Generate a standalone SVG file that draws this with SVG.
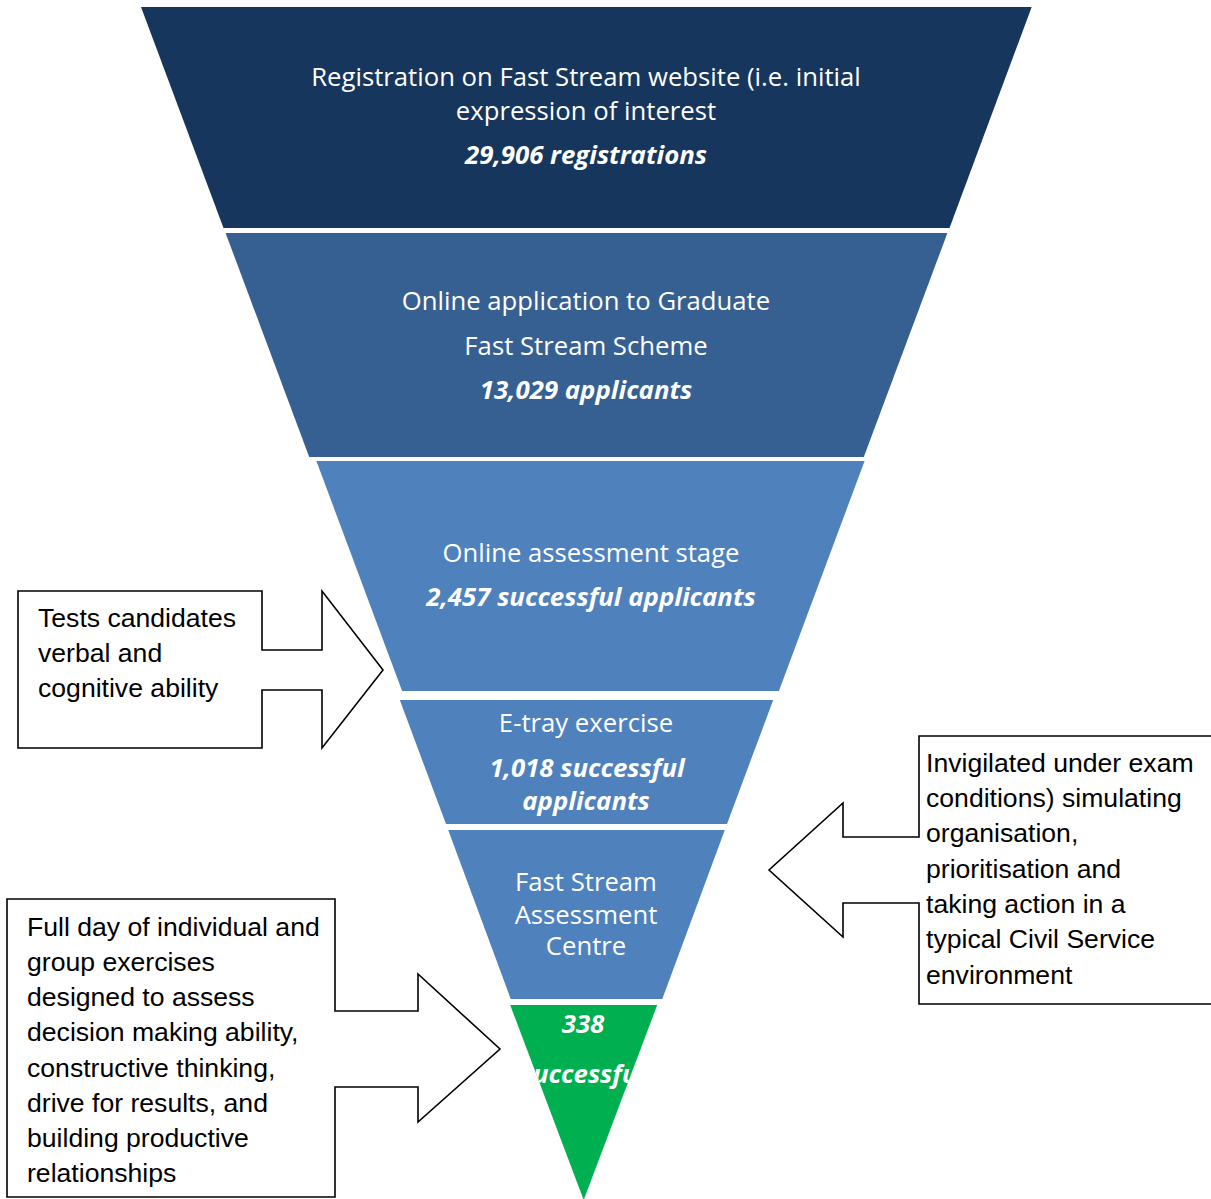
<svg xmlns="http://www.w3.org/2000/svg" width="1211" height="1199" viewBox="0 0 1211 1199">
  <style>
    .band-text { font-family: "Open Sans", Lato, "Liberation Sans", sans-serif; font-size: 25.7px; fill: #ffffff; text-anchor: middle; }
    .band-num { font-family: "Open Sans", Lato, "Liberation Sans", sans-serif; font-size: 25.8px; font-weight: bold; font-style: italic; fill: #ffffff; text-anchor: middle; }
    .note { font-family: "Liberation Sans", Arial, sans-serif; font-size: 26.6px; fill: #000000; }
    .callout { fill: #ffffff; stroke: #000000; stroke-width: 1.6; stroke-linejoin: miter; }
  </style>
  <defs>
    <clipPath id="green-clip">
      <polygon points="510.2,1005 657.2,1005 583.7,1200"/>
    </clipPath>
  </defs>

  <rect width="1211" height="1199" fill="#ffffff"/>

  <!-- funnel stages -->
  <g id="stage-registration">
    <polygon points="141,7 1031.7,7 949.5,228 223.5,228" fill="#17365d"/>
    <text class="band-text" x="586" y="86">Registration on Fast Stream website (i.e. initial</text>
    <text class="band-text" x="586" y="120">expression of interest</text>
    <text class="band-num" x="586" y="164">29,906 registrations</text>
  </g>

  <g id="stage-application">
    <polygon points="225.6,233 947.4,233 863.8,457 309.2,457" fill="#366092"/>
    <text class="band-text" x="586" y="310">Online application to Graduate</text>
    <text class="band-text" x="586" y="355">Fast Stream Scheme</text>
    <text class="band-num" x="586" y="399">13,029 applicants</text>
  </g>

  <g id="stage-online-assessment">
    <polygon points="316.4,461 864.6,461 778.9,691 402.1,691" fill="#4f81bd"/>
    <text class="band-text" x="591" y="562">Online assessment stage</text>
    <text class="band-num" x="591" y="606">2,457 successful applicants</text>
  </g>

  <g id="stage-etray">
    <polygon points="399.8,700 773.2,700 727,824 446,824" fill="#4f81bd"/>
    <text class="band-text" x="586" y="732">E-tray exercise</text>
    <text class="band-num" x="587" y="777">1,018 successful</text>
    <text class="band-num" x="586" y="810">applicants</text>
  </g>

  <g id="stage-assessment-centre">
    <polygon points="448.2,830 724.8,830 662.3,999 510.7,999" fill="#4f81bd"/>
    <text class="band-text" x="586" y="891">Fast Stream</text>
    <text class="band-text" x="586" y="924">Assessment</text>
    <text class="band-text" x="586" y="955">Centre</text>
  </g>

  <g id="stage-successful">
    <polygon points="510.2,1005 657.2,1005 583.7,1200" fill="#00b050"/>
    <g clip-path="url(#green-clip)">
      <text class="band-num" x="583" y="1033">338</text>
      <text class="band-num" x="583" y="1083">successful</text>
    </g>
  </g>

  <!-- explanatory callouts pointing at the funnel -->
  <g id="connectors">
    <g id="note-online-tests">
      <path class="callout" d="M18,591 H262 V650 H322 V591 L383,670 L322,748 V690 H262 V748 H18 Z"/>
      <text class="note" x="38" y="627">Tests candidates</text>
      <text class="note" x="38" y="662">verbal and</text>
      <text class="note" x="38" y="697">cognitive ability</text>
    </g>

    <g id="note-etray">
      <path class="callout" d="M919,736 H1215 V1004 H919 V903 H843 V937 L769,870 L843,803 V837 H919 Z"/>
      <text class="note" x="926" y="772">Invigilated under exam</text>
      <text class="note" x="926" y="807">conditions) simulating</text>
      <text class="note" x="926" y="842">organisation,</text>
      <text class="note" x="926" y="878">prioritisation and</text>
      <text class="note" x="926" y="913">taking action in a</text>
      <text class="note" x="926" y="948">typical Civil Service</text>
      <text class="note" x="926" y="984">environment</text>
    </g>

    <g id="note-assessment-centre">
      <path class="callout" d="M7,899 H335 V1011 H418 V974 L500,1049 L418,1122 V1087 H335 V1197 H7 Z"/>
      <text class="note" x="27" y="936">Full day of individual and</text>
      <text class="note" x="27" y="971">group exercises</text>
      <text class="note" x="27" y="1006">designed to assess</text>
      <text class="note" x="27" y="1041">decision making ability,</text>
      <text class="note" x="27" y="1077">constructive thinking,</text>
      <text class="note" x="27" y="1112">drive for results, and</text>
      <text class="note" x="27" y="1147">building productive</text>
      <text class="note" x="27" y="1182">relationships</text>
    </g>
  </g>
</svg>
